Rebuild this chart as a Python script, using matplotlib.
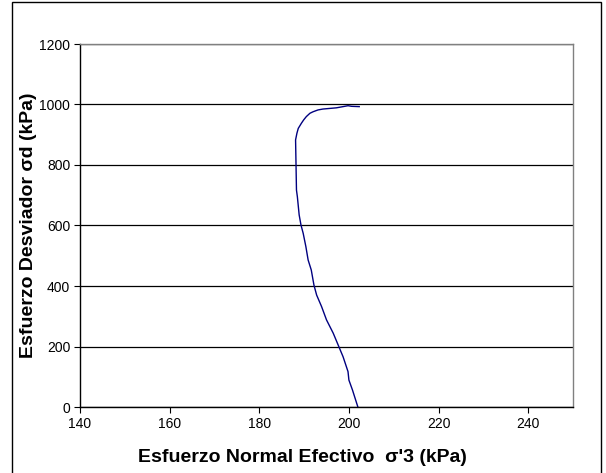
import matplotlib
matplotlib.use("Agg")
import matplotlib.pyplot as plt
from matplotlib.patches import Rectangle

# Esfuerzo normal efectivo sigma'3 (kPa) vs esfuerzo desviador (kPa)
sigma3 = [202.0, 200.8, 200.0, 199.8, 198.7, 197.6, 196.5, 195.0, 193.9, 192.8,
          192.2, 191.6, 190.9, 190.4, 189.8, 189.3, 188.9, 188.5, 188.3, 188.2,
          188.1, 188.4, 188.7, 189.4, 189.9, 190.5, 191.3, 192.0, 193.1, 194.2,
          195.7, 197.2, 198.7, 199.8, 200.6, 202.3]
desviador = [0, 56, 89, 117, 166, 205, 244, 288, 332, 370,
             403, 453, 486, 530, 574, 602, 635, 695, 717, 800,
             883, 905, 921, 938, 949, 960, 971, 976, 982, 985,
             987, 989, 993, 996, 994, 993]

x_ticks = [140, 160, 180, 200, 220, 240]
y_ticks = [0, 200, 400, 600, 800, 1000, 1200]

plt.rcParams['font.family'] = ['Liberation Sans', 'DejaVu Sans']

fig = plt.figure(figsize=(6.06, 4.73), dpi=100)
ax = fig.add_axes([80 / 606, 1 - 407 / 473, 493 / 606, 363 / 473])

ax.plot(sigma3, desviador, color='#000080', linewidth=1.0)

ax.set_xlim(140, 250)
ax.set_ylim(0, 1200)
ax.set_xticks(x_ticks)
ax.set_yticks(y_ticks)
ax.tick_params(direction='out', length=4, width=0.8, labelsize=10, colors='black')
ax.tick_params(axis='y', pad=3)
ax.grid(axis='y', color='black', linewidth=0.9)
ax.set_axisbelow(True)

for side in ['left', 'bottom']:
    ax.spines[side].set_color('black')
    ax.spines[side].set_linewidth(1.0)
for side in ['top', 'right']:
    ax.spines[side].set_color('#808080')
    ax.spines[side].set_linewidth(1.0)

fig.text(302 / 606, 1 - 457 / 473, "Esfuerzo Normal Efectivo  σ'3 (kPa)",
         ha='center', va='center', fontsize=14, fontweight='bold')
fig.text(29 / 606, 1 - 225 / 473, "Esfuerzo Desviador σd (kPa)",
         ha='center', va='center', rotation=90, fontsize=14, fontweight='bold')

# marco exterior del grafico
fig.patches.append(Rectangle((12 / 606, -0.05), 589 / 606, 1.05 - 2 / 473,
                             transform=fig.transFigure, fill=False,
                             edgecolor='black', linewidth=1.0))

fig.savefig('out.png', dpi=100)
